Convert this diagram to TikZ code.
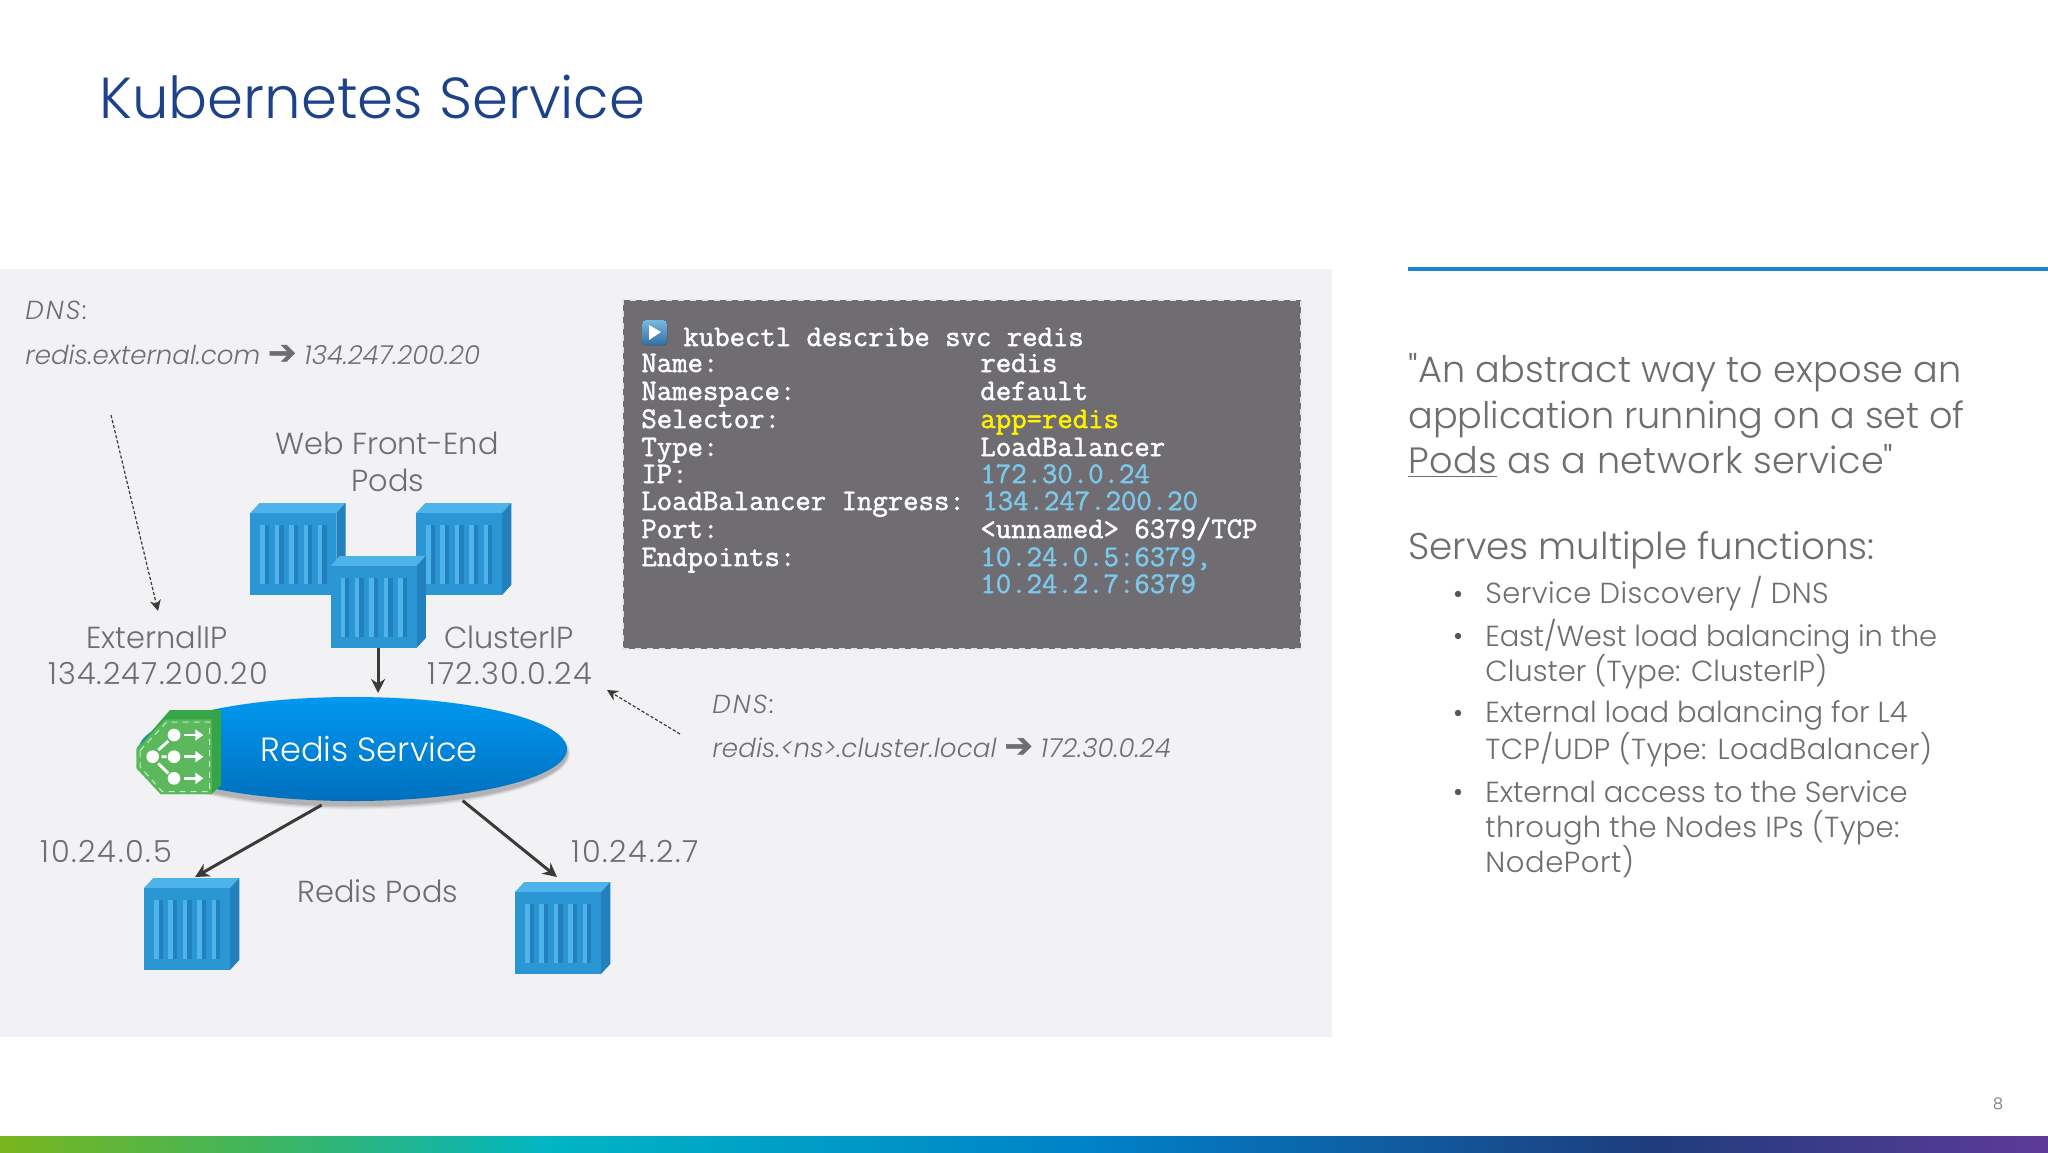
\documentclass[tikz,border=0pt]{standalone}
\usepackage{fontspec}
\usetikzlibrary{arrows.meta,calc,shapes.geometric}
\setmainfont{Poppins Light}
\newfontfamily\qfont{Poppins Light}
\newfontfamily\arrowfont[FakeBold=1.5]{DejaVu Sans}
\newfontfamily\codefont[FakeBold=1.6]{Latin Modern Mono}
\newcommand{\harrow}{{\fontsize{17}{17}\arrowfont\upshape ➔}}
\newcommand{\lsp}[1]{\addfontfeature{LetterSpace=#1}}
\definecolor{txt}{HTML}{6D6E71}
\definecolor{titleblue}{HTML}{1D428A}
\definecolor{panel}{HTML}{F2F2F4}
\definecolor{term}{HTML}{6F6D71}
\definecolor{ipblue}{HTML}{7CC8EC}
\definecolor{conn}{HTML}{3A3A3A}
\definecolor{podfront}{HTML}{2A96D4}
\definecolor{podtop}{HTML}{4DB3E8}
\definecolor{podside}{HTML}{2280BE}
\definecolor{barA}{HTML}{7AB51D}
\definecolor{barB}{HTML}{3FB55E}
\definecolor{barC}{HTML}{00B5C4}
\definecolor{barD}{HTML}{0080C8}
\definecolor{barE}{HTML}{1E3C7D}
\definecolor{barF}{HTML}{5E3A98}
\definecolor{rule}{HTML}{1D85D0}
\definecolor{svcTop}{HTML}{0098F0}
\definecolor{svcBot}{HTML}{0070BE}
\definecolor{hexTop}{HTML}{36A548}
\definecolor{hexFront}{HTML}{5CB85C}
\definecolor{hexLine}{HTML}{C5EBC5}
\definecolor{playTop}{HTML}{78B9E1}
\definecolor{playBot}{HTML}{326EA5}
\definecolor{bulletc}{HTML}{555558}
\tikzset{
 lab/.style={font=\fontsize{15.2}{18}\selectfont,text=txt,inner sep=0pt,anchor=base},
 ital/.style={font=\fontsize{13.05}{15}\selectfont\itshape,text=txt,inner sep=0pt,anchor=base west},
 big/.style={font=\fontsize{18.3}{24}\selectfont,text=txt,inner sep=0pt,anchor=base west},
 bul/.style={font=\fontsize{14.5}{18}\selectfont,text=txt,inner sep=0pt,anchor=base west},
 dot/.style={circle,fill=bulletc,inner sep=0pt,minimum size=3.2pt},
 code/.style={font=\fontsize{14.95}{17}\codefont,text=white,inner sep=0pt,anchor=base west},
 arr/.style={draw=conn,line width=1.5pt,-{Stealth[length=7pt,width=7pt]}},
 dns/.style={draw=conn,line width=.6pt,dash pattern=on 1.6pt off 1pt,-{Stealth[length=5.5pt,width=5.5pt]}},
 podnode/.style={inner sep=0pt,minimum width=47.6pt,minimum height=46pt},
}
\newcommand{\podcube}[3]{%
 \begin{scope}[shift={(#1,#2)}]
 \fill[podtop] (0,0) -- (9.3,-10) -- (95.3,-10) -- (86,0) -- cycle;
 \fill[podside] (86,0) -- (95.3,-10) -- (95.3,72) -- (86,82) -- cycle;
 \fill[podfront] (0,0) rectangle (86,82);
 \foreach \i in {0,...,4}{
  \fill[podside] ({14.5+14.4*\i},12) rectangle ({18.8+14.4*\i},71);
  \fill[podtop] ({10+14.4*\i},12) rectangle ({14.5+14.4*\i},71);
 }
 \node[podnode] (#3) at (47.6,36) {};
 \end{scope}}
\begin{document}
\begin{tikzpicture}[x=0.5pt,y=-0.5pt]
\useasboundingbox (0,0) rectangle (2048,1152);
\fill[white] (0,0) rectangle (2048,1152);
\fill[panel] (0,269) rectangle (1332,1037);
% bottom bar
\shade[left color=barA,right color=barB] (0,1136) rectangle (260,1152);
\shade[left color=barB,right color=barC] (259.5,1136) rectangle (550,1152);
\shade[left color=barC,right color=barD] (549.5,1136) rectangle (1100,1152);
\shade[left color=barD,right color=barE] (1099.5,1136) rectangle (1650,1152);
\shade[left color=barE,right color=barF] (1649.5,1136) rectangle (2048,1152);
% title
\node[anchor=base west,inner sep=0pt,text=titleblue,font=\fontsize{28.9}{32}\selectfont] (title) at (99,118) {Kubernetes Service};
% right column
\draw[line width=1.6pt,draw=rule] (1408,269) -- (2048,269);
\node[big] (q1) at (1408,382) {\lsp{0.5}{\qfont"}An abstract way to expose an};
\node[big] (q2) at (1408,428) {application running on a set of};
\node[big] (q3) at (1408,473) {\lsp{1.15}\underline{Pods} as a network service{\qfont"}};
\node[big,font=\fontsize{18.6}{24}\selectfont] (serves) at (1408,559) {Serves multiple functions:};
\node[dot] (b1) at (1458,594) {};
\node[bul] (t1) at (1485,603) {\lsp{1.4}Service Discovery / DNS};
\node[dot] (b2) at (1458,636) {};
\node[bul] (t2) at (1485,646) {\lsp{-0.7}East/West load balancing in the};
\node[bul] (t2b) at (1485,681) {Cluster (Type: ClusterIP)};
\node[dot] (b3) at (1458,713) {};
\node[bul] (t3) at (1485,722) {External load balancing for L4};
\node[bul] (t3b) at (1485,759) {\lsp{1.3}TCP/UDP (Type: LoadBalancer)};
\node[dot] (b4) at (1458,792) {};
\node[bul] (t4) at (1485,802) {\lsp{-0.4}External access to the Service};
\node[bul] (t4b) at (1485,837) {\lsp{1}through the Nodes IPs (Type:};
\node[bul] (t4c) at (1485,872) {\lsp{2}NodePort)};
\node[inner sep=0pt,text=txt,font=\fontsize{8}{10}\selectfont] (pgnum) at (1998,1104) {8};
% terminal
\node[draw=term!20!white,fill=term,dashed,line width=.6pt,inner sep=0pt,minimum width=339pt,minimum height=174.5pt] (termbox) at (962,474.5) {};
\fill[rounded corners=2pt,top color=playTop,bottom color=playBot] (642,320) rectangle (667,345);
\fill[white] (649,325) -- (661,332) -- (649,340) -- cycle;
\node[code] (c0) at (683,346) {kubectl describe svc redis};
\node[code] (c1) at (641,372) {Name:};
\node[code] (c2) at (641,400) {Namespace:};
\node[code] (c3) at (641,428) {Selector:};
\node[code] (c4) at (641,456) {Type:};
\node[code] (c5) at (641,483) {IP:};
\node[code] (c6) at (641,510) {LoadBalancer Ingress:};
\node[code] (c7) at (641,538) {Port:};
\node[code] (c8) at (641,566) {Endpoints:};
\node[code] (d1) at (980,372) {redis};
\node[code] (d2) at (980,400) {default};
\node[code,text=yellow] (d3) at (980,428) {app=redis};
\node[code] (d4) at (980,456) {LoadBalancer};
\node[code,text=ipblue] (d5) at (980,483) {172.30.0.24};
\node[code,text=ipblue] (d6) at (982,510) {134.247.200.20};
\node[code] (d7) at (980,538) {<unnamed> 6379/TCP};
\node[code,text=ipblue] (d8) at (980,566) {10.24.0.5:6379,};
\node[code,text=ipblue] (d9) at (980,593) {10.24.2.7:6379};
% labels
\node[ital] (dnsa) at (25,319) {\lsp{8}DNS:};
\node[ital] (dnsb) at (25,364) {redis.external.com \harrow{} 134.247.200.20};
\node[ital] (dnsc) at (712,713) {\lsp{8}DNS:};
\node[ital] (dnsd) at (712,757) {\lsp{0.4}redis.<ns>.cluster.local \harrow{} 172.30.0.24};
\node[lab] (web1) at (387,454) {Web Front-End};
\node[lab] (web2) at (388,491) {Pods};
\node[lab] (ext1) at (157,648) {ExternalIP};
\node[lab] (ext2) at (158,684) {\lsp{3.7}134.247.200.20};
\node[lab] (clu1) at (509,648) {ClusterIP};
\node[lab] (clu2) at (510,684) {\lsp{4.7}172.30.0.24};
\node[lab,anchor=base west] (ip1) at (40,862) {\lsp{5.7}10.24.0.5};
\node[lab,anchor=base west] (ip2) at (571,862) {\lsp{5.7}10.24.2.7};
\node[lab] (rpods) at (378,902) {Redis Pods};
% pods
\podcube{250.3}{513}{podL}
\podcube{416}{513}{podR}
\podcube{330.5}{566}{podM}
\podcube{144}{888}{podA}
\podcube{515}{892}{podB}
% service shadow
\foreach \d/\o in {8/.04,6/.06,4/.08,2/.1}{
 \fill[black,opacity=\o] (353,753) ellipse [x radius={214+\d*.4},y radius={52+\d*.6}];}
% service
\node[ellipse,inner sep=0pt,minimum width=214pt,minimum height=52pt,top color=svcTop,bottom color=svcBot] (svc) at (353,749) {};
\node[inner sep=0pt,anchor=base,text=white,font=\fontsize{16.8}{20}\selectfont] (svclabel) at (369,761) {Redis Service};
% hex icon
\begin{scope}[shift={(120,680)},x=0.1667pt,y=-0.1667pt]
 \fill[hexTop] (50,205) -- (150,90) -- (303,90) -- (303,315) -- (275,342) -- (122,342) -- (50,265) -- cycle;
 \fill[hexFront] (50,210) -- (135,118) -- (275,118) -- (275,342) -- (122,342) -- (50,265) -- cycle;
 \draw[hexLine,line width=.5pt,dash pattern=on 3pt off 2.5pt] (60,212) -- (140,126) -- (269,126) -- (269,335) -- (127,335) -- (60,260) -- cycle;
 \draw[white,line width=1.4pt] (115,210) -- (145,183) (125,230) -- (140,230) (115,250) -- (145,280);
 \foreach \p in {(98,230),(162,165),(162,230),(162,295)} \fill[white] \p circle [radius=19];
 \foreach \yy in {165,230,295} \draw[white,line width=1.4pt,-{Triangle[length=4pt,width=5.5pt]}] (192,\yy) -- (250,\yy);
\end{scope}
% connectors
\coordinate (s1) at (321.7,805);
\coordinate (s2) at (462.7,800.7);
\coordinate (e1) at (195,877);
\coordinate (e2) at (557,877);
\coordinate (e0) at (378,693);
\coordinate (da) at (111,415);
\coordinate (db) at (158,611);
\coordinate (dc) at (680,734);
\coordinate (dd) at (607,690);
\draw[arr] (podM.south) -- (podM.south |- e0);
\draw[arr] (s1) -- (e1);
\draw[arr] (s2) -- (e2);
\draw[dns] (da) -- (db);
\draw[dns] (dc) -- (dd);
\end{tikzpicture}
\end{document}
